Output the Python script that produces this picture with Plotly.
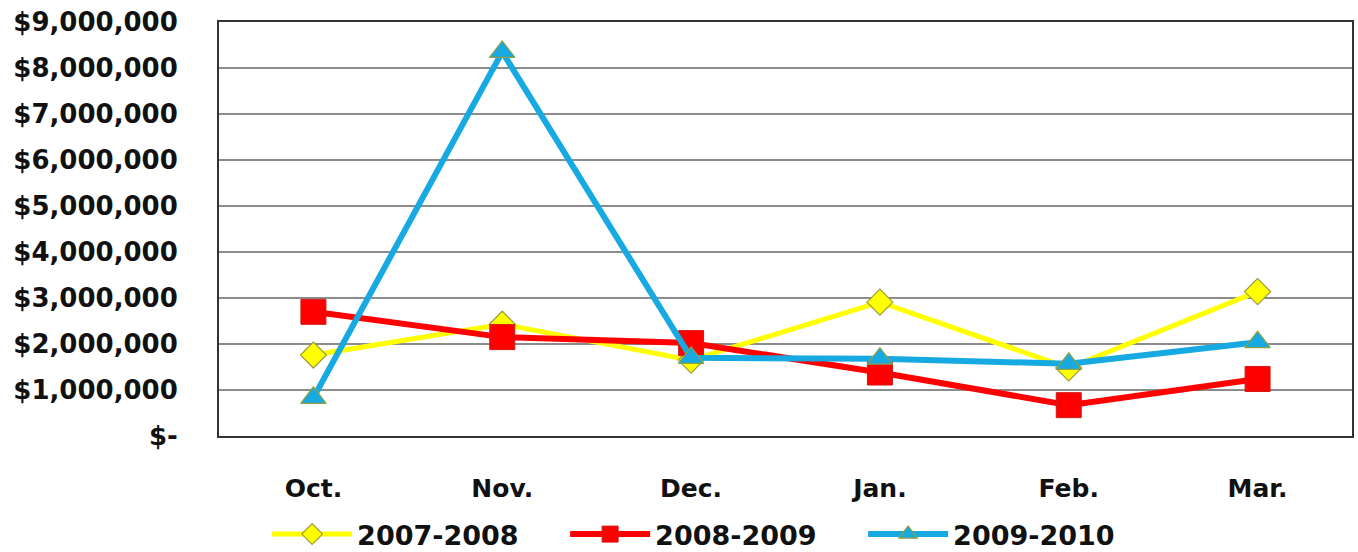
import plotly.graph_objects as go

# Monthly totals (US$) by fiscal year
months = ["Oct.", "Nov.", "Dec.", "Jan.", "Feb.", "Mar."]
fy_2007_2008 = [1760000, 2430000, 1650000, 2910000, 1480000, 3140000]
fy_2008_2009 = [2700000, 2150000, 2020000, 1380000, 670000, 1240000]
fy_2009_2010 = [830000, 8350000, 1700000, 1680000, 1570000, 2040000]

y_ticks = [0, 1000000, 2000000, 3000000, 4000000, 5000000, 6000000, 7000000, 8000000, 9000000]
y_tick_text = ["$-"] + ["${:,}".format(v) for v in y_ticks[1:]]

FONT = "DejaVu Sans"

fig = go.Figure()

fig.add_trace(go.Scatter(
    x=months, y=fy_2007_2008, name="2007-2008", mode="lines+markers",
    line=dict(color="#FFFF00", width=5),
    marker=dict(symbol="diamond", size=20, color="#FFFF00",
                line=dict(color="#9C9C3C", width=1.2)),
))
fig.add_trace(go.Scatter(
    x=months, y=fy_2008_2009, name="2008-2009", mode="lines+markers",
    line=dict(color="#FF0000", width=6),
    marker=dict(symbol="square", size=25, color="#FF0000",
                line=dict(color="#D01818", width=1)),
))
fig.add_trace(go.Scatter(
    x=months, y=fy_2009_2010, name="2009-2010", mode="lines+markers",
    line=dict(color="#17A9E1", width=6),
    marker=dict(symbol="triangle-up", size=22, color="#17A9E1",
                line=dict(color="#8FA040", width=1.2)),
))

fig.update_layout(
    width=1358, height=552,
    margin=dict(l=219, r=6, t=22, b=116, autoexpand=False),
    paper_bgcolor="white", plot_bgcolor="white",
    font=dict(family=FONT, color="#111111"),
    showlegend=True,
    legend=dict(
        orientation="h", x=0.437, xanchor="center", y=-0.238, yanchor="middle",
        font=dict(family=FONT, size=27, color="#111111", weight="bold"),
        itemwidth=80, entrywidth=203, tracegroupgap=0,
        bgcolor="rgba(0,0,0,0)",
    ),
)

fig.update_xaxes(
    type="category", range=[-0.5, 5.5],
    showgrid=False, zeroline=False,
    showline=True, linecolor="#333333", linewidth=2, mirror=True,
    ticks="", ticklabelstandoff=29,
    tickfont=dict(family=FONT, size=25, color="#111111", weight="bold"),
)
fig.update_yaxes(
    range=[0, 9000000], tickvals=y_ticks, ticktext=y_tick_text,
    showgrid=True, gridcolor="#8C8C8C", gridwidth=1.5,
    zeroline=False,
    showline=True, linecolor="#333333", linewidth=2, mirror=True,
    ticks="", ticklabelstandoff=34,
    tickfont=dict(family=FONT, size=26, color="#111111", weight="bold"),
)

fig.write_html("out.html")
